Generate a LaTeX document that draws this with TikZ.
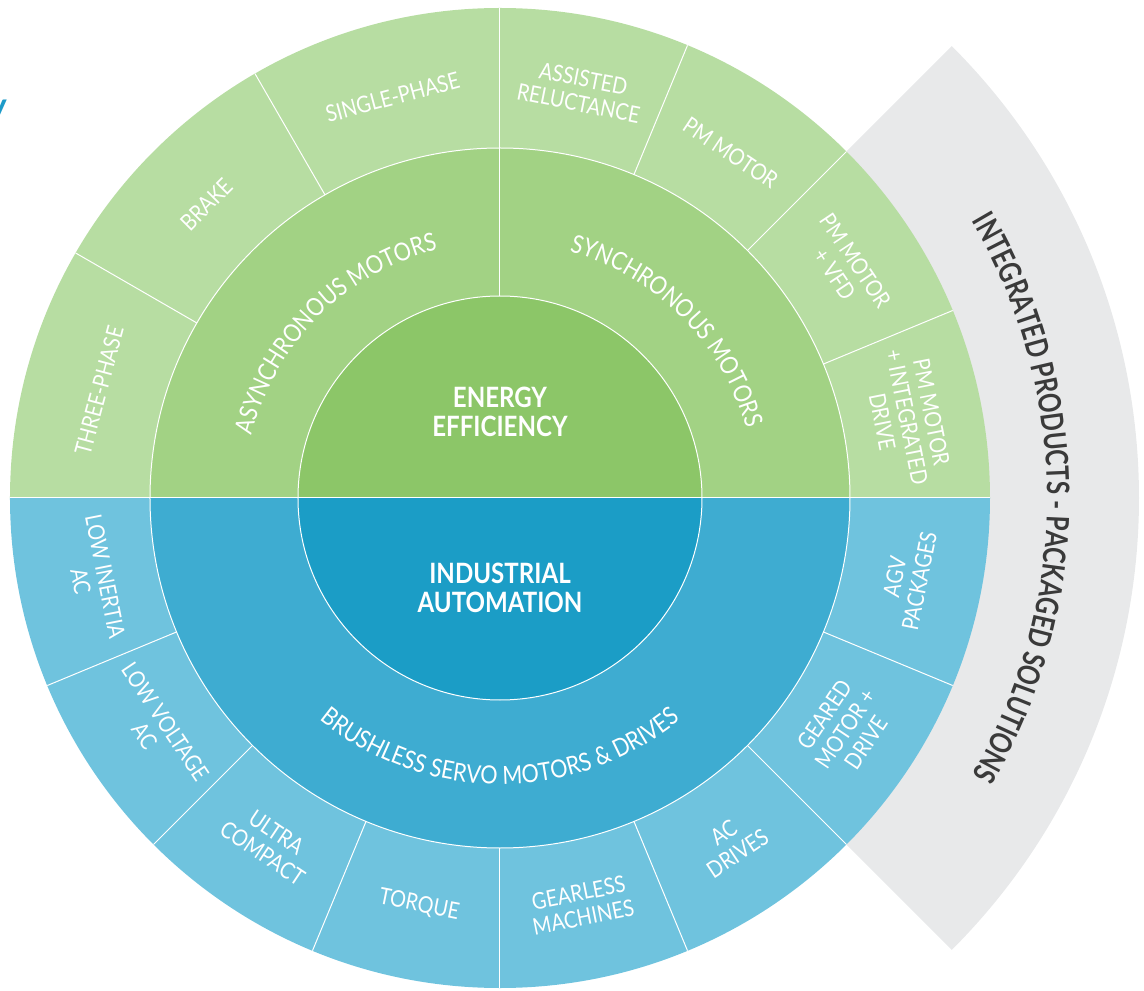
\documentclass[tikz,border=0pt]{standalone}
\usepackage{fontspec}
\newfontfamily\wheelfont[FakeStretch=0.86]{Lato}
\newfontfamily\bandfont[FakeStretch=0.78]{Lato}
\usetikzlibrary{decorations.text}

\definecolor{gInner}{HTML}{8CC668}
\definecolor{gMid}{HTML}{A2D284}
\definecolor{gOuter}{HTML}{B7DDA2}
\definecolor{bInner}{HTML}{1B9DC6}
\definecolor{bMid}{HTML}{3EACD1}
\definecolor{bOuter}{HTML}{6FC3DE}
\definecolor{band}{HTML}{E8E9EA}
\definecolor{bandtext}{HTML}{3A3A3A}
\definecolor{teal}{HTML}{1E9BC9}

\tikzset{
  sep/.style={draw=white, line width=1pt},
  lbl/.style={text=white, align=center, inner sep=0pt, font=\wheelfont\fontsize{23}{25}\selectfont},
  hub/.style={text=white, align=center, inner sep=0pt, font=\wheelfont\bfseries\fontsize{28}{29}\selectfont},
}

\begin{document}
\begin{tikzpicture}[x=1pt,y=1pt]
\useasboundingbox (-500,-493) rectangle (644,498);

%Shape: Band [integrated products]
\fill[band] (45:480) -- (45:639) arc[start angle=45, end angle=-45, radius=639] -- (-45:480) -- cycle;

%Shape: Half Discs
\fill[gOuter] (0:490) arc[start angle=0, end angle=180, radius=490] -- cycle;
\fill[bOuter] (180:490) arc[start angle=180, end angle=360, radius=490] -- cycle;
\fill[gMid] (0:350) arc[start angle=0, end angle=180, radius=350] -- cycle;
\fill[bMid] (180:350) arc[start angle=180, end angle=360, radius=350] -- cycle;
\fill[gInner] (0:202) arc[start angle=0, end angle=180, radius=202] -- cycle;
\fill[bInner] (180:202) arc[start angle=180, end angle=360, radius=202] -- cycle;

%Straight Lines
\draw[sep] (0,0) circle (202);
\draw[sep] (0,0) circle (350);
\draw[sep] (180:490) -- (0:490);
\draw[sep] (90:202) -- (90:490);
\foreach \a in {22.5,45,67.5,120,150,202.5,225,247.5,270,292.5,315,337.5}
  \draw[sep] (\a:350) -- (\a:490);

% Text Node
\draw (-493,398) node (cut) [anchor=north east, inner sep=0pt, text=teal, font=\wheelfont\bfseries\itshape\fontsize{40}{40}\selectfont] {y};

% Text Node
\draw (0,86) node (energy) [hub] {ENERGY\\EFFICIENCY};
% Text Node
\draw (0,-90) node (industrial) [hub] {INDUSTRIAL\\AUTOMATION};

%Curved Text
\path[decorate, decoration={text along path, text align=center, text color=white,
  text={|\wheelfont\fontsize{25}{25}\selectfont|ASYNCHRONOUS MOTORS}}]
  (180:256) arc[start angle=180, end angle=90, radius=256];
\path[decorate, decoration={text along path, text align=center, text color=white,
  text={|\wheelfont\fontsize{25}{25}\selectfont|SYNCHRONOUS MOTORS}}]
  (90:256) arc[start angle=90, end angle=0, radius=256];
\path[decorate, decoration={text along path, text align=center, text color=white,
  text={|\wheelfont\fontsize{25}{25}\selectfont|BRUSHLESS SERVO MOTORS {\&} DRIVES}}]
  (180:286) arc[start angle=180, end angle=360, radius=286];
\path[decorate, decoration={text along path, text align=center, text color=bandtext,
  text={|\bandfont\bfseries\fontsize{31}{31}\selectfont|INTEGRATED PRODUCTS - PACKAGED SOLUTIONS}}]
  (90:547) arc[start angle=90, end angle=-90, radius=547];

% Text Node
\draw (165:415) node (threephase) [lbl, rotate=75] {THREE-PHASE};
\draw (135:415) node (brake) [lbl, rotate=45] {BRAKE};
\draw (105:415) node (singlephase) [lbl, rotate=15] {SINGLE-PHASE};
\draw (78.75:415) node (reluctance) [lbl, rotate=-11.25] {ASSISTED\\RELUCTANCE};
\draw (56.25:415) node (pmmotor) [lbl, rotate=-33.75] {PM MOTOR};
\draw (33.75:415) node (pmvfd) [lbl, rotate=-56.25] {PM MOTOR\\+ VFD};
\draw (11.25:415) node (pmdrive) [lbl, rotate=-78.75] {PM MOTOR\\+ INTEGRATED\\DRIVE};

% Text Node
\draw (191.25:415) node (lowinertia) [lbl, rotate=-78.75] {LOW INERTIA\\AC};
\draw (213.75:415) node (lowvoltage) [lbl, rotate=-56.25] {LOW VOLTAGE\\AC};
\draw (236.25:415) node (ultra) [lbl, rotate=-33.75] {ULTRA\\COMPACT};
\draw (258.75:415) node (torque) [lbl, rotate=-11.25] {TORQUE};
\draw (281.25:415) node (gearless) [lbl, rotate=11.25] {GEARLESS\\MACHINES};
\draw (303.75:415) node (acdrives) [lbl, rotate=33.75] {AC\\DRIVES};
\draw (326.25:415) node (geared) [lbl, rotate=56.25] {GEARED\\MOTOR +\\DRIVE};
\draw (348.75:415) node (agv) [lbl, rotate=78.75] {AGV\\PACKAGES};

\end{tikzpicture}
\end{document}
